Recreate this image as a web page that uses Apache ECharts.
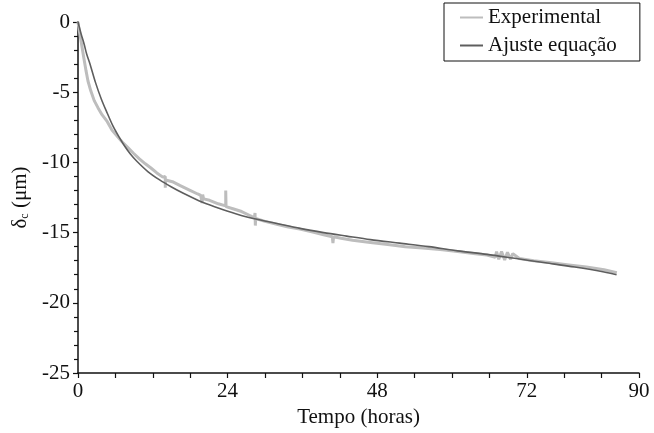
<!DOCTYPE html>
<html><head><meta charset="utf-8">
<script src="https://cdn.jsdelivr.net/npm/echarts@6/dist/echarts.min.js"></script>
<style>html,body{margin:0;padding:0;background:#fff}#c{width:654px;height:433px}</style>
</head><body><div id="c"></div>
<script>
const xTickValues = [0, 24, 48, 72, 90];
const xTickLabels = ['0', '24', '48', '72', '90'];
const yTickLabels = ['-25', '-20', '-15', '-10', '-5', '0'];

// Ajuste equação (fit)
const fitHours  = [0, 0.5, 1, 1.4, 1.9, 2.8, 3.75, 4.7, 5.6, 6.6, 7.5, 8.4, 9.4, 11.2, 13.1, 15, 16.9, 18.8, 20.6, 22.5, 25.3, 28.1, 31.9, 35.6, 39.4, 43.1, 46.9, 51.6, 56.3, 60.9, 65.6, 70.3, 75, 79.7, 84.4, 86.4];
const fitValues = [0, -0.85, -1.6, -2.3, -2.95, -4.3, -5.5, -6.5, -7.4, -8.2, -8.85, -9.4, -9.9, -10.65, -11.25, -11.75, -12.2, -12.6, -12.95, -13.25, -13.65, -14.0, -14.35, -14.7, -15.0, -15.25, -15.5, -15.75, -16.0, -16.3, -16.55, -16.85, -17.15, -17.45, -17.8, -18.0];

// Experimental
const expHours  = [0, 0.2, 0.4, 0.65, 0.95, 1.3, 1.6, 2.05, 2.6, 3.2, 3.85, 4.7, 5.45, 6.4, 7.1, 8.0, 8.9, 9.85, 10.8, 11.7, 12.65, 13.6,
  14.0, 14.0, 14.05, 15.3, 16.4, 17.8, 19.2, 19.7, 19.9, 20.0, 20.15, 21.1, 22.5, 23.7, 23.7, 23.75, 24.85, 26.25, 27.65,
  28.3, 28.4, 28.45, 28.5, 30, 31.9, 33.75, 35.6, 37.5, 39.4, 40.8, 40.9, 41.0, 42.2, 44.05, 46.9, 49.7, 52.5, 55.3, 58.1, 60.9, 63.75, 65.6,
  66.95, 67.15, 67.5, 67.95, 68.45, 68.9, 69.4, 69.75, 70.8, 73.1, 75.95, 78.75, 81.55, 84.4, 86.45];
const expValues = [0, -0.6, -1.1, -1.8, -2.6, -3.5, -4.2, -4.9, -5.6, -6.1, -6.6, -7.1, -7.7, -8.2, -8.55, -8.95, -9.35, -9.75, -10.1, -10.4, -10.75, -11.05,
  -11.0, -11.8, -11.25, -11.4, -11.65, -11.95, -12.25, -12.35, -12.9, -12.3, -12.6, -12.7, -12.95, -13.1, -12.0, -13.15, -13.3, -13.5, -13.8,
  -13.95, -13.6, -14.5, -14.0, -14.2, -14.4, -14.6, -14.75, -14.95, -15.15, -15.3, -15.75, -15.3, -15.4, -15.55, -15.7, -15.85, -16.0, -16.1, -16.2, -16.35, -16.5, -16.6,
  -16.75, -16.35, -16.9, -16.35, -16.95, -16.4, -16.9, -16.5, -16.85, -17.0, -17.15, -17.3, -17.45, -17.65, -17.85];

const FONT = '"Liberation Serif", "Times New Roman", serif';
const FS = 21;
const zip = (a, b) => a.map((v, i) => [v, b[i]]);
const lineIcon = 'path://M0,0 L23,0 L23,2 L0,2 Z';

const chart = echarts.init(document.getElementById('c'), null, {renderer: 'canvas'});
chart.setOption({
  animation: false,
  backgroundColor: '#fff',
  grid: {left: 78, right: 15, top: 22, bottom: 56},
  legend: {
    orient: 'vertical', left: 444, top: 3,
    padding: [4, 23, 5, 16], itemGap: 7, itemWidth: 23, itemHeight: 10,
    borderColor: '#111', borderWidth: 1, backgroundColor: '#fff',
    textStyle: {fontFamily: FONT, fontSize: FS, color: '#111'},
    data: [{name: 'Experimental', icon: lineIcon}, {name: 'Ajuste equação', icon: lineIcon}]
  },
  xAxis: {
    type: 'value', min: 0, max: 90, interval: 24,
    name: 'Tempo (horas)', nameLocation: 'middle', nameGap: 34,
    nameTextStyle: {fontFamily: FONT, fontSize: FS, color: '#111'},
    axisLine: {show: true, onZero: false, lineStyle: {color: '#111', width: 1.5}},
    axisTick: {show: true, inside: false, length: 5, lineStyle: {color: '#111', width: 1.2}},
    minorTick: {show: true, splitNumber: 4, length: 5, lineStyle: {color: '#111', width: 1.2}},
    splitLine: {show: false},
    axisLabel: {fontFamily: FONT, fontSize: FS, color: '#111', margin: 8, showMaxLabel: true,
      formatter: v => { const i = xTickValues.indexOf(Math.round(v)); return i >= 0 ? xTickLabels[i] : ''; }}
  },
  yAxis: {
    type: 'value', min: -25, max: 0, interval: 5,
    name: '{d|δ}{s|c}{d| (μm)}', nameLocation: 'middle', nameGap: 44, nameRotate: 90,
    nameTextStyle: {rich: {
      d: {fontFamily: FONT, fontSize: FS, color: '#111'},
      s: {fontFamily: FONT, fontSize: 12, color: '#111', verticalAlign: 'bottom', padding: [9, 0, 0, 0]}
    }},
    axisLine: {show: true, onZero: false, lineStyle: {color: '#111', width: 1.5}},
    axisTick: {show: true, inside: false, length: 5, lineStyle: {color: '#111', width: 1.2}},
    minorTick: {show: true, splitNumber: 5, length: 4, lineStyle: {color: '#111', width: 1.2}},
    splitLine: {show: false},
    axisLabel: {fontFamily: FONT, fontSize: FS, color: '#111', margin: 8,
      formatter: v => yTickLabels[Math.round((v + 25) / 5)]}
  },
  series: [
    {name: 'Experimental', type: 'line', data: zip(expHours, expValues), showSymbol: false, symbol: 'none',
     lineStyle: {color: '#bdbdbd', width: 3}, itemStyle: {color: '#bdbdbd'}, z: 2},
    {name: 'Ajuste equação', type: 'line', data: zip(fitHours, fitValues), showSymbol: false, symbol: 'none', smooth: 0.3,
     lineStyle: {color: '#5e5e5e', width: 1.6}, itemStyle: {color: '#5e5e5e'}, z: 3}
  ]
});
</script></body></html>
